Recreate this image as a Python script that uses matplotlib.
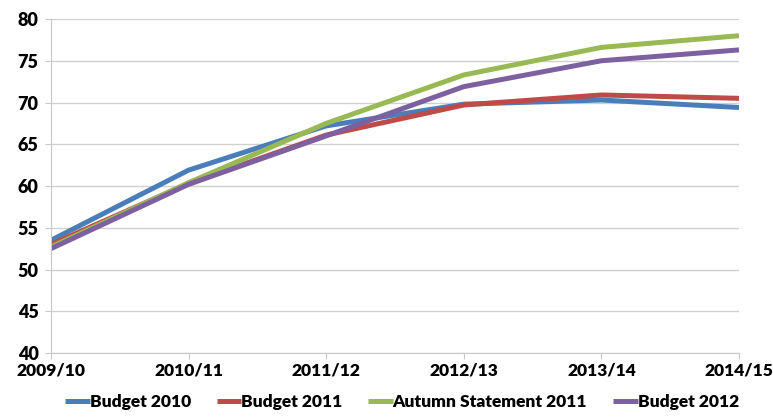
import matplotlib
matplotlib.use("Agg")
import matplotlib.pyplot as plt

years = ["2009/10", "2010/11", "2011/12", "2012/13", "2013/14", "2014/15"]
budget_2010 = [53.5, 61.9, 67.2, 69.8, 70.3, 69.4]
budget_2011 = [53.0, 60.3, 66.1, 69.7, 70.9, 70.5]
autumn_2011 = [52.7, 60.4, 67.5, 73.3, 76.6, 78.0]
budget_2012 = [52.5, 60.2, 66.0, 71.9, 75.0, 76.3]
series_names = ["Budget 2010", "Budget 2011", "Autumn Statement 2011", "Budget 2012"]
colors = ["#4A7EBB", "#BE4B48", "#98B954", "#7D60A0"]

plt.rcParams['font.family'] = ['Lato', 'DejaVu Sans']

fig = plt.figure(figsize=(7.73, 4.19), dpi=100)
ax = fig.add_axes([51/773, 1-353/419, (739-51)/773, (353-19)/419])

x = list(range(len(years)))
for vals, name, c in zip([budget_2010, budget_2011, autumn_2011, budget_2012], series_names, colors):
    ax.plot(x, vals, color=c, lw=3.6, label=name, solid_capstyle='butt', solid_joinstyle='round')

ax.set_xlim(0, len(years)-1)
ax.set_ylim(40, 80)
ax.set_yticks(range(40, 81, 5))
ax.set_xticks(x)
ax.set_xticklabels(years)
ax.yaxis.grid(True, color="#D0D0D0", lw=1)
ax.set_axisbelow(True)
for s in ["top", "right"]:
    ax.spines[s].set_visible(False)
ax.spines["left"].set_color("#C8C8C8")
ax.spines["bottom"].set_color("#C8C8C8")
ax.tick_params(axis='y', length=4, color="#C8C8C8", pad=5, labelsize=13)
ax.tick_params(axis='x', length=4, color="#C8C8C8", pad=3, labelsize=12.5)
for lbl in ax.get_xticklabels() + ax.get_yticklabels():
    lbl.set_fontweight('heavy')

leg = fig.legend(loc='lower center', bbox_to_anchor=(0.52, -0.015), ncol=4, frameon=False,
                 prop={'weight': 'heavy', 'size': 12.5}, handlelength=1.4, handletextpad=0.0,
                 columnspacing=1.5)

fig.savefig("out.png", dpi=100)
